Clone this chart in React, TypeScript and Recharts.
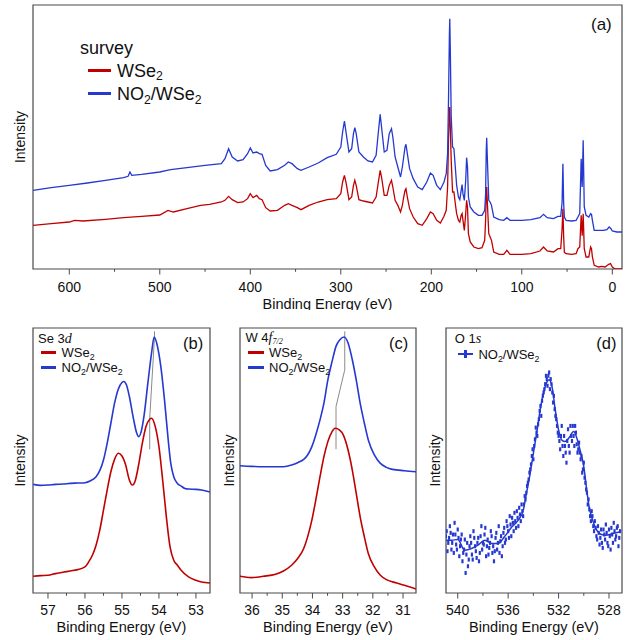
import React from 'react';
import { LineChart, ComposedChart, Line, Scatter, XAxis, YAxis, ReferenceArea, Legend } from 'recharts';

const RED = '#c00000';
const BLUE = '#2538d0';
const GRAY = '#8a8a8a';
const FRAME = '#4a4a4a';
const FONT = '"Liberation Sans", Arial, Helvetica, sans-serif';
const SERIF = '"Liberation Serif", "Times New Roman", serif';

// ---------- (a) survey: [binding energy (eV), intensity (arb.)] ----------
const surveyWSe2: [number, number][] = [
  [640, 131], [620, 136], [600, 141], [594, 146], [585, 144], [560, 149], [540, 154], [520, 158], [500, 162],
  [491, 176], [485, 171], [470, 181], [455, 191], [445, 194], [432, 201], [428, 206], [424, 218], [420, 208],
  [414, 199], [408, 201], [403, 211], [400, 226], [397, 214], [393, 221], [390, 211], [387, 208], [383, 184],
  [378, 174], [370, 176], [362, 191], [358, 196], [354, 191], [348, 184], [344, 178], [335, 191], [325, 201],
  [315, 208], [305, 211], [300, 226], [298, 261], [296, 281], [294, 256], [291, 208], [288, 216], [286, 251],
  [284.5, 266], [283, 251], [280, 208], [275, 204], [270, 201], [265, 198], [261, 216], [258.5, 261], [256.5, 296],
  [255, 276], [252, 221], [249, 221], [246.5, 251], [244, 266], [242.5, 246], [240, 206], [237, 191], [234, 171],
  [232, 191], [230.5, 216], [229, 236], [228, 241], [226.5, 216], [224, 181], [220, 156], [215, 136], [210, 131],
  [205, 151], [201, 171], [198, 166], [194, 146], [190, 138], [186, 158], [183.5, 176], [182, 246], [181, 386],
  [180, 476], [179.6, 486], [179, 426], [178, 326], [176.5, 231], [175, 231], [173.5, 196], [172, 166], [170, 146],
  [168.5, 141], [167, 161], [166, 166], [165, 146], [163.5, 116], [162, 166], [161, 206], [160, 186], [159, 106],
  [157, 81], [153, 66], [148, 61], [144, 64], [141, 86], [140, 146], [139.3, 226], [138.8, 246], [138, 196],
  [136.5, 106], [135, 96], [133.5, 86], [131, 51], [125, 44], [120, 44], [116.5, 56], [113, 44], [100, 44],
  [90, 46], [80, 54], [76, 66], [72, 54], [65, 51], [60, 61], [57, 61], [55.5, 120], [54.6, 181], [53.8, 100],
  [53, 50], [51, 46], [45, 44], [40, 46], [38, 61], [36, 66], [34.4, 161], [33.3, 100], [32.2, 166], [31, 61],
  [29, 36], [26, 36], [24, 66], [23, 61], [22, 36], [20, 11], [15, 6], [12, 8], [8, 6], [4, 14], [2, 16],
  [0, 6], [-3, 0], [-10.7, 0],
];
const surveyNO2: [number, number][] = [
  [640, 236], [620, 244], [600, 251], [580, 258], [560, 266], [540, 274], [535, 278], [533, 291], [531, 281],
  [520, 284], [500, 291], [492, 296], [488, 298], [470, 304], [450, 311], [432, 316], [428, 331], [424, 361],
  [420, 336], [414, 324], [408, 328], [403, 346], [400, 363], [397, 348], [393, 351], [390, 346], [387, 344],
  [383, 311], [378, 294], [370, 298], [362, 311], [358, 321], [354, 316], [348, 301], [344, 296], [335, 306],
  [325, 318], [315, 334], [305, 344], [300, 366], [298, 411], [296, 444], [294, 406], [291, 351], [288, 361],
  [286, 406], [284.5, 424], [283, 406], [280, 351], [275, 336], [270, 324], [265, 321], [261, 341], [258.5, 411],
  [256.5, 464], [255, 426], [252, 351], [249, 356], [246.5, 406], [244, 421], [242.5, 396], [240, 336], [237, 306],
  [234, 276], [232, 306], [230.5, 336], [229, 366], [228, 374], [226.5, 346], [224, 301], [220, 271], [215, 246],
  [210, 238], [205, 261], [201, 288], [198, 281], [194, 251], [190, 238], [186, 261], [183.5, 286], [182, 346],
  [181, 506], [180, 706], [179.6, 751], [179, 656], [178, 456], [176.5, 366], [175, 361], [173.5, 306], [172, 251],
  [170, 216], [168.5, 208], [167, 236], [166, 253], [165, 226], [163.5, 206], [162, 266], [161, 334], [160, 306],
  [159, 216], [157, 186], [153, 171], [148, 161], [144, 161], [141, 176], [140, 226], [139.3, 356], [138.8, 394],
  [138, 326], [136.5, 206], [135, 201], [133.5, 191], [131, 156], [125, 148], [120, 146], [116.5, 154], [113, 146],
  [100, 146], [90, 148], [80, 154], [76, 164], [72, 154], [65, 151], [60, 158], [57, 158], [55.5, 200],
  [54.6, 316], [53.8, 200], [53, 156], [51, 146], [45, 144], [40, 146], [38, 156], [36, 166], [34.4, 331],
  [33.3, 246], [32.2, 386], [31, 186], [29, 161], [26, 156], [24, 166], [23, 164], [22, 146], [20, 116],
  [15, 116], [10, 116], [6, 118], [3.5, 126], [1.5, 121], [0, 114], [-5, 111], [-10.7, 111],
];
const surveyMajorTicks = [600, 500, 400, 300, 200, 100, 0];
const surveyMinorTicks = [550, 450, 350, 250, 150, 50];

// ---------- (b) Se 3d ----------
const se3dWSe2: [number, number][] = [
  [57.4, 50], [57.2, 52], [57.0, 53], [56.8, 58], [56.6, 62], [56.4, 66], [56.2, 70], [56.0, 78], [55.9, 93],
  [55.8, 113], [55.7, 143], [55.6, 188], [55.5, 248], [55.4, 308], [55.3, 363], [55.2, 400], [55.1, 418],
  [55.0, 410], [54.9, 383], [54.8, 338], [54.72, 323], [54.65, 333], [54.55, 383], [54.45, 448], [54.35, 498],
  [54.25, 520], [54.2, 523], [54.1, 498], [54.0, 438], [53.9, 338], [53.8, 228], [53.7, 138], [53.6, 98],
  [53.5, 83], [53.4, 68], [53.2, 48], [53.0, 38], [52.85, 33], [52.62, 30],
];
const se3dNO2: [number, number][] = [
  [57.4, 325], [57.2, 322], [57.0, 323], [56.8, 325], [56.6, 326], [56.4, 328], [56.2, 329], [56.0, 330],
  [55.85, 336], [55.7, 348], [55.6, 366], [55.5, 398], [55.4, 448], [55.3, 508], [55.2, 568], [55.1, 610],
  [55.0, 630], [54.95, 633], [54.88, 623], [54.8, 588], [54.7, 528], [54.6, 478], [54.55, 468], [54.48, 483],
  [54.4, 533], [54.3, 628], [54.2, 718], [54.13, 766], [54.05, 743], [53.95, 678], [53.85, 578], [53.75, 458],
  [53.68, 388], [53.6, 348], [53.5, 328], [53.4, 320], [53.3, 313], [53.2, 311], [53.0, 310], [52.85, 308],
  [52.62, 302],
];
const se3dShift: [number, number][] = [[54.25, 430], [54.25, 523], [54.12, 766], [54.12, 783]];
const seMajorTicks = [57, 56, 55, 54, 53];
const seMinorTicks = [56.5, 55.5, 54.5, 53.5];

// ---------- (c) W 4f7/2 ----------
const w4fWSe2: [number, number][] = [
  [36.4, 50], [36.03, 46], [35.63, 50], [35.22, 56], [34.96, 66], [34.69, 83], [34.49, 103], [34.29, 133],
  [34.16, 168], [34.02, 218], [33.89, 278], [33.75, 348], [33.62, 408], [33.49, 453], [33.35, 483], [33.25, 493],
  [33.11, 488], [32.98, 473], [32.82, 428], [32.68, 368], [32.55, 298], [32.42, 228], [32.28, 168], [32.15, 118],
  [31.95, 78], [31.75, 53], [31.55, 40], [31.21, 30], [30.95, 23], [30.57, 12],
];
const w4fNO2: [number, number][] = [
  [36.4, 381], [36.03, 379], [35.63, 378], [34.96, 378], [34.69, 383], [34.49, 390], [34.29, 400], [34.16, 413],
  [34.02, 438], [33.89, 473], [33.75, 518], [33.62, 568], [33.49, 638], [33.35, 693], [33.22, 738], [33.09, 758],
  [32.95, 766], [32.82, 748], [32.68, 698], [32.55, 638], [32.42, 568], [32.28, 508], [32.15, 458], [31.95, 413],
  [31.75, 388], [31.55, 376], [31.35, 370], [30.95, 366], [30.57, 363],
];
const w4fShift: [number, number][] = [[33.22, 430], [33.22, 558], [32.93, 668], [32.93, 783]];
const wMajorTicks = [36, 35, 34, 33, 32, 31];
const wMinorTicks = [35.5, 34.5, 33.5, 32.5, 31.5];

// ---------- (d) O 1s ----------
const o1sFit: [number, number][] = [
  [540.93, 158], [540.5, 158], [540, 160], [539.45, 128], [538.9, 133], [538.4, 143], [537.85, 158], [537.3, 148],
  [536.8, 148], [536.3, 168], [535.7, 198], [535.2, 218], [534.8, 248], [534.55, 298], [534.3, 348], [534.0, 418],
  [533.7, 488], [533.5, 538], [533.2, 598], [532.9, 633], [532.75, 638], [532.5, 613], [532.3, 558], [532.0, 488],
  [531.75, 458], [531.5, 453], [531.2, 463], [530.8, 483], [530.55, 463], [530.3, 428], [530.0, 378], [529.8, 318],
  [529.6, 263], [529.3, 218], [529.05, 193], [528.65, 176], [528.25, 173], [527.7, 178], [527.1, 183],
];
const o1sData: [number, number][] = [
  [541.0, 140], [540.9375, 170], [540.875, 185], [540.8125, 125], [540.75, 150], [540.6875, 165], [540.625, 200],
  [540.5625, 180], [540.5, 130], [540.4375, 150], [540.375, 175], [540.3125, 120], [540.25, 210], [540.1875, 175],
  [540.125, 145], [540.0625, 130], [540.0, 190], [539.9375, 165], [539.875, 110], [539.8125, 140], [539.75, 160],
  [539.6875, 175], [539.625, 95], [539.5625, 120], [539.5, 130], [539.4375, 160], [539.375, 60], [539.3125, 115],
  [539.25, 150], [539.1875, 80], [539.125, 100], [539.0625, 140], [539.0, 170], [538.9375, 150], [538.875, 115],
  [538.8125, 100], [538.75, 185], [538.6875, 165], [538.625, 140], [538.5625, 125], [538.5, 105], [538.4375, 150],
  [538.375, 165], [538.3125, 95], [538.25, 120], [538.1875, 170], [538.125, 200], [538.0625, 130], [538.0, 150],
  [537.9375, 145], [537.875, 175], [537.8125, 195], [537.75, 110], [537.6875, 140], [537.625, 160], [537.5625, 115],
  [537.5, 135], [537.4375, 150], [537.375, 185], [537.3125, 170], [537.25, 120], [537.1875, 140], [537.125, 95],
  [537.0625, 125], [537.0, 165], [536.9375, 180], [536.875, 130], [536.8125, 150], [536.75, 200], [536.6875, 120],
  [536.625, 155], [536.5625, 170], [536.5, 110], [536.4375, 140], [536.375, 180], [536.3125, 195], [536.25, 150],
  [536.1875, 160], [536.125, 215], [536.0625, 200], [536.0, 185], [535.9375, 165], [535.875, 230], [535.8125, 205],
  [535.75, 170], [535.6875, 225], [535.625, 210], [535.5625, 185], [535.5, 240], [535.4375, 215], [535.375, 195],
  [535.3125, 245], [535.25, 225], [535.1875, 200], [535.125, 255], [535.0625, 235], [535.0, 215], [534.9375, 265],
  [534.875, 245], [534.8125, 230], [534.75, 265], [534.6875, 290], [534.625, 280], [534.5625, 300], [534.5, 320],
  [534.4375, 330], [534.375, 340], [534.3125, 360], [534.25, 370], [534.1875, 385], [534.125, 410], [534.0625, 430],
  [534.0, 400], [533.9375, 440], [533.875, 460], [533.8125, 495], [533.75, 480], [533.6875, 470], [533.625, 505],
  [533.5625, 520], [533.5, 545], [533.4375, 560], [533.375, 530], [533.3125, 575], [533.25, 590], [533.1875, 600],
  [533.125, 610], [533.0625, 625], [533.0, 650], [532.9375, 640], [532.875, 620], [532.8125, 650], [532.75, 660],
  [532.6875, 610], [532.625, 640], [532.5625, 625], [532.5, 600], [532.4375, 570], [532.375, 590], [532.3125, 550],
  [532.25, 530], [532.1875, 520], [532.125, 500], [532.0625, 480], [532.0, 470], [531.9375, 455], [531.875, 430],
  [531.8125, 470], [531.75, 500], [531.6875, 440], [531.625, 410], [531.5625, 470], [531.5, 440], [531.4375, 420],
  [531.375, 390], [531.3125, 455], [531.25, 490], [531.1875, 440], [531.125, 420], [531.0625, 500], [531.0, 470],
  [530.9375, 455], [530.875, 500], [530.8125, 470], [530.75, 440], [530.6875, 500], [530.625, 480], [530.5625, 445],
  [530.5, 420], [530.4375, 430], [530.375, 450], [530.3125, 420], [530.25, 400], [530.1875, 410], [530.125, 360],
  [530.0625, 370], [530.0, 390], [529.9375, 345], [529.875, 330], [529.8125, 310], [529.75, 300], [529.6875, 265],
  [529.625, 280], [529.5625, 250], [529.5, 230], [529.4375, 215], [529.375, 245], [529.3125, 230], [529.25, 200],
  [529.1875, 185], [529.125, 215], [529.0625, 195], [529.0, 170], [528.9375, 160], [528.875, 200], [528.8125, 180],
  [528.75, 145], [528.6875, 165], [528.625, 190], [528.5625, 150], [528.5, 135], [528.4375, 190], [528.375, 175],
  [528.3125, 160], [528.25, 205], [528.1875, 180], [528.125, 150], [528.0625, 140], [528.0, 190], [527.9375, 170],
  [527.875, 130], [527.8125, 195], [527.75, 175], [527.6875, 150], [527.625, 210], [527.5625, 185], [527.5, 160],
  [527.4375, 170], [527.375, 195], [527.3125, 200], [527.25, 140], [527.1875, 165], [527.125, 185],
];
const oMajorTicks = [540, 536, 532, 528];
const oMinorTicks = [538, 534, 530];

const pts = (a: [number, number][]) => a.map(([x, y]) => ({ x, y }));

// ---------- helpers ----------
const makeTick = (majors: number[], baseline: number) => (props: any) => {
  const { x, y, payload } = props;
  const v = payload.value;
  const major = majors.includes(v);
  return (
    <g>
      <line x1={x} x2={x} y1={y} y2={y + (major ? 5.5 : 2.8)} stroke={FRAME} strokeWidth={1} />
      {major && (
        <text x={x} y={y + baseline} textAnchor="middle" fontSize={14} fill="#111" fontFamily={FONT}>
          {v}
        </text>
      )}
    </g>
  );
};

const Sub = ({ children, serif }: any) => (
  <span style={{ fontSize: '0.68em', position: 'relative', top: '0.26em', fontFamily: serif ? SERIF : undefined }}>
    {children}
  </span>
);

const T = ({ left, base, size, children, style }: any) => (
  <div
    style={{
      position: 'absolute',
      left,
      top: base - 0.8465 * size,
      fontSize: size,
      lineHeight: `${size}px`,
      whiteSpace: 'nowrap',
      color: '#111',
      fontFamily: FONT,
      ...style,
    }}
  >
    {children}
  </div>
);

const Swatch = ({ x1, x2, y, color, thick, marker }: any) => (
  <>
    <div style={{ position: 'absolute', left: x1, top: y - thick / 2, width: x2 - x1, height: thick, background: color }} />
    {marker && (
      <div style={{ position: 'absolute', left: (x1 + x2) / 2 - 1.2, top: y - 4, width: 2.4, height: 8, background: color }} />
    )}
  </>
);

const WSe2 = () => (
  <>
    WSe<Sub>2</Sub>
  </>
);
const NO2WSe2 = () => (
  <>
    NO<Sub>2</Sub>/WSe<Sub>2</Sub>
  </>
);

const OverlayA = () => (
  <div style={{ position: 'relative', width: 634, height: 310 }}>
    <T left={80} base={54} size={18}>survey</T>
    <Swatch x1={88} x2={111} y={70.5} color={RED} thick={2.6} />
    <T left={117} base={77.5} size={18}><WSe2 /></T>
    <Swatch x1={88} x2={111} y={93.5} color={BLUE} thick={2.6} />
    <T left={117} base={100.7} size={18}><NO2WSe2 /></T>
    <T left={591} base={30} size={17}>(a)</T>
  </div>
);

const OverlayB = () => (
  <div style={{ position: 'relative', width: 216, height: 340 }}>
    <T left={38} base={42.8} size={13}>
      Se 3<span style={{ fontFamily: SERIF, fontStyle: 'italic', fontSize: '1.08em' }}>d</span>
    </T>
    <Swatch x1={41} x2={56} y={52.7} color={RED} thick={2.6} />
    <T left={61.6} base={57.3} size={13}><WSe2 /></T>
    <Swatch x1={41} x2={56} y={67.7} color={BLUE} thick={2.6} />
    <T left={61.6} base={72.5} size={13}><NO2WSe2 /></T>
    <T left={183} base={49} size={16.5}>(b)</T>
  </div>
);

const OverlayC = () => (
  <div style={{ position: 'relative', width: 210, height: 340 }}>
    <T left={33.4} base={42.3} size={13}>
      W 4<span style={{ fontFamily: SERIF, fontStyle: 'italic', fontSize: '1.08em' }}>f</span>
      <span style={{ fontSize: '0.62em', position: 'relative', top: '0.2em', fontFamily: SERIF, fontStyle: 'italic' }}>7/2</span>
    </T>
    <Swatch x1={36.2} x2={51.7} y={52.7} color={RED} thick={2.6} />
    <T left={57} base={57.3} size={13}><WSe2 /></T>
    <Swatch x1={36.2} x2={51.7} y={67.7} color={BLUE} thick={2.6} />
    <T left={57} base={72.5} size={13}><NO2WSe2 /></T>
    <T left={177} base={49} size={16.5}>(c)</T>
  </div>
);

const OverlayD = () => (
  <div style={{ position: 'relative', width: 214, height: 340 }}>
    <T left={34.8} base={42.8} size={13}>
      O 1<span style={{ fontFamily: SERIF, fontStyle: 'italic', fontSize: '1.08em' }}>s</span>
    </T>
    <Swatch x1={38} x2={53} y={54.3} color={BLUE} thick={2} marker />
    <T left={58.4} base={59.3} size={13}><NO2WSe2 /></T>
    <T left={176.3} base={49} size={16.5}>(d)</T>
  </div>
);

const overlayLegend = (Comp: any, w: number, h: number) => (
  <Legend
    layout="vertical"
    align="center"
    verticalAlign="middle"
    content={() => <Comp />}
    wrapperStyle={{ left: 0, top: 0, width: w, height: h, pointerEvents: 'none' }}
  />
);

const titleLabel = (offset: number) => ({
  value: 'Binding Energy (eV)',
  position: 'insideBottom' as const,
  offset,
  fontSize: 14.5,
  fill: '#111',
});

const intensityLabel = {
  value: 'Intensity',
  angle: -90,
  position: 'center' as const,
  fontSize: 14,
  fill: '#111',
};

// ---------- panels ----------
const SURVEY_DOMAIN: [number, number] = [-10.7, 640.1];
const SE_DOMAIN: [number, number] = [52.62, 57.405];
const W_DOMAIN: [number, number] = [30.57, 36.4];
const O_DOMAIN: [number, number] = [526.97, 540.93];
const Y_TOP = 792;
const Y_BOT = 793;

const PanelA = () => (
  <LineChart width={634} height={310} margin={{ top: 5, right: 12, left: 7, bottom: 0 }}>
    <XAxis
      type="number"
      dataKey="x"
      domain={SURVEY_DOMAIN}
      allowDataOverflow
      reversed
      ticks={[...surveyMajorTicks, ...surveyMinorTicks]}
      interval={0}
      tick={makeTick(surveyMajorTicks, 22.7)}
      tickSize={0}
      tickMargin={0}
      tickLine={false}
      axisLine={false}
      height={41}
      label={titleLabel(1.5)}
    />
    <YAxis
      type="number"
      domain={[0, Y_TOP]}
      allowDataOverflow
      width={26}
      tick={false}
      tickLine={false}
      axisLine={false}
      label={intensityLabel}
    />
    <ReferenceArea x1={SURVEY_DOMAIN[0]} x2={SURVEY_DOMAIN[1]} y1={0} y2={Y_TOP} fill="none" stroke={FRAME} strokeWidth={1.2} />
    <Line data={pts(surveyWSe2)} dataKey="y" type="linear" stroke={RED} strokeWidth={1.3} dot={false} isAnimationActive={false} />
    <Line data={pts(surveyNO2)} dataKey="y" type="linear" stroke={BLUE} strokeWidth={1.3} dot={false} isAnimationActive={false} />
    {overlayLegend(OverlayA, 634, 310)}
  </LineChart>
);

const PanelB = () => (
  <LineChart width={216} height={340} margin={{ top: 28, right: 6, left: 7, bottom: 0 }}>
    <XAxis
      type="number"
      dataKey="x"
      domain={SE_DOMAIN}
      allowDataOverflow
      reversed
      ticks={[...seMajorTicks, ...seMinorTicks]}
      interval={0}
      tick={makeTick(seMajorTicks, 22)}
      tickSize={0}
      tickMargin={0}
      tickLine={false}
      axisLine={false}
      height={47}
      label={titleLabel(8)}
    />
    <YAxis type="number" domain={[0, Y_BOT]} allowDataOverflow width={26} tick={false} tickLine={false} axisLine={false} label={intensityLabel} />
    <ReferenceArea x1={SE_DOMAIN[0]} x2={SE_DOMAIN[1]} y1={0} y2={Y_BOT} fill="none" stroke={FRAME} strokeWidth={1.2} />
    <Line data={pts(se3dShift)} dataKey="y" type="linear" stroke={GRAY} strokeWidth={1} dot={false} isAnimationActive={false} />
    <Line data={pts(se3dWSe2)} dataKey="y" type="monotone" stroke={RED} strokeWidth={1.6} dot={false} isAnimationActive={false} />
    <Line data={pts(se3dNO2)} dataKey="y" type="monotone" stroke={BLUE} strokeWidth={1.6} dot={false} isAnimationActive={false} />
    {overlayLegend(OverlayB, 216, 340)}
  </LineChart>
);

const PanelC = () => (
  <LineChart width={210} height={340} margin={{ top: 28, right: 6, left: 6, bottom: 0 }}>
    <XAxis
      type="number"
      dataKey="x"
      domain={W_DOMAIN}
      allowDataOverflow
      reversed
      ticks={[...wMajorTicks, ...wMinorTicks]}
      interval={0}
      tick={makeTick(wMajorTicks, 22)}
      tickSize={0}
      tickMargin={0}
      tickLine={false}
      axisLine={false}
      height={47}
      label={titleLabel(8)}
    />
    <YAxis type="number" domain={[0, Y_BOT]} allowDataOverflow width={22} tick={false} tickLine={false} axisLine={false} label={intensityLabel} />
    <ReferenceArea x1={W_DOMAIN[0]} x2={W_DOMAIN[1]} y1={0} y2={Y_BOT} fill="none" stroke={FRAME} strokeWidth={1.2} />
    <Line data={pts(w4fShift)} dataKey="y" type="linear" stroke={GRAY} strokeWidth={1} dot={false} isAnimationActive={false} />
    <Line data={pts(w4fWSe2)} dataKey="y" type="monotone" stroke={RED} strokeWidth={1.6} dot={false} isAnimationActive={false} />
    <Line data={pts(w4fNO2)} dataKey="y" type="monotone" stroke={BLUE} strokeWidth={1.6} dot={false} isAnimationActive={false} />
    {overlayLegend(OverlayC, 210, 340)}
  </LineChart>
);

const ScatterMark = (props: any) => {
  const { cx, cy } = props;
  if (cx == null || cy == null) return null;
  return <rect x={cx - 1.1} y={cy - 2} width={2.2} height={4} fill={BLUE} />;
};

const PanelD = () => (
  <ComposedChart width={214} height={340} margin={{ top: 28, right: 12, left: 5, bottom: 0 }}>
    <XAxis
      type="number"
      dataKey="x"
      domain={O_DOMAIN}
      allowDataOverflow
      reversed
      ticks={[...oMajorTicks, ...oMinorTicks]}
      interval={0}
      tick={makeTick(oMajorTicks, 22)}
      tickSize={0}
      tickMargin={0}
      tickLine={false}
      axisLine={false}
      height={47}
      label={titleLabel(8)}
    />
    <YAxis type="number" dataKey="y" domain={[0, Y_BOT]} allowDataOverflow width={21} tick={false} tickLine={false} axisLine={false} label={intensityLabel} />
    <ReferenceArea x1={O_DOMAIN[0]} x2={O_DOMAIN[1]} y1={0} y2={Y_BOT} fill="none" stroke={FRAME} strokeWidth={1.2} />
    <Scatter data={pts(o1sData)} dataKey="y" shape={ScatterMark} isAnimationActive={false} />
    <Line data={pts(o1sFit)} dataKey="y" type="monotone" stroke={BLUE} strokeWidth={1.5} dot={false} isAnimationActive={false} />
    {overlayLegend(OverlayD, 214, 340)}
  </ComposedChart>
);

export default function App() {
  return (
    <div style={{ position: 'absolute', left: 0, top: 0, width: 634, height: 640, background: '#fff', fontFamily: FONT }}>
      <div style={{ position: 'absolute', left: 0, top: 0 }}>
        <PanelA />
      </div>
      <div style={{ position: 'absolute', left: 0, top: 300 }}>
        <PanelB />
      </div>
      <div style={{ position: 'absolute', left: 212, top: 300 }}>
        <PanelC />
      </div>
      <div style={{ position: 'absolute', left: 420, top: 300 }}>
        <PanelD />
      </div>
    </div>
  );
}
